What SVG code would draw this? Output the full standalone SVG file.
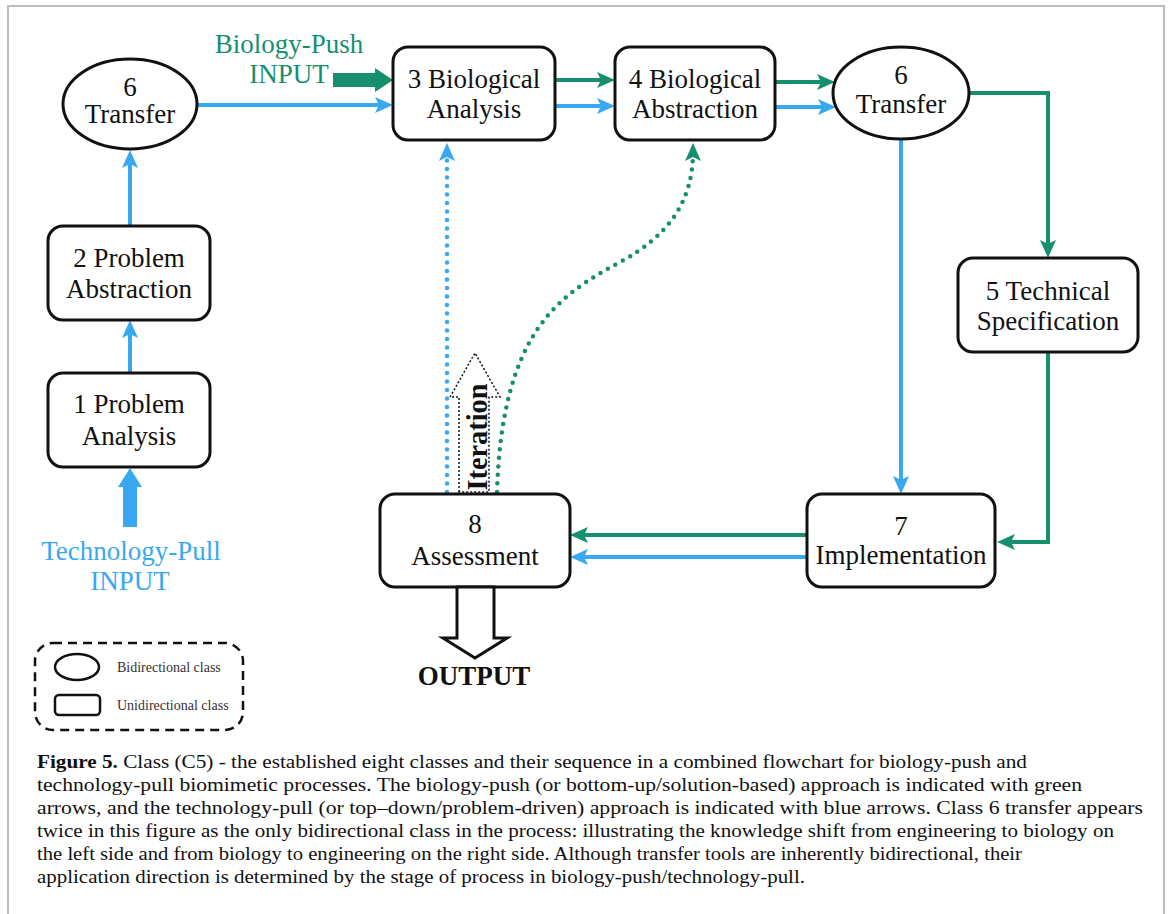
<svg xmlns="http://www.w3.org/2000/svg" width="1171" height="914" viewBox="0 0 1171 914">
<style>
.box{fill:#fff;stroke:#111;stroke-width:3}
.lbl{font-family:"Liberation Serif",serif;font-size:27px;fill:#111;text-anchor:middle}
.blue{stroke:#38a8f2;stroke-width:4;fill:none}
.green{stroke:#168f6f;stroke-width:4;fill:none}
.bdot{stroke:#38a8f2;stroke-width:4.5;fill:none;stroke-dasharray:0 8.5;stroke-linecap:round}
.gdot{stroke:#168f6f;stroke-width:4.5;fill:none;stroke-dasharray:0 8.5;stroke-linecap:round}
.cap{font-family:"Liberation Serif",serif;font-size:19.5px;fill:#111}
.leg{font-family:"Liberation Serif",serif;font-size:14px;fill:#333}
</style>
<defs>
<marker id="ab" viewBox="0 0 18 16" refX="12" refY="8" markerWidth="18" markerHeight="16" markerUnits="userSpaceOnUse" orient="auto"><path d="M0,0 L18,8 L0,16 L4,8 z" fill="#38a8f2"/></marker>
<marker id="ag" viewBox="0 0 18 16" refX="12" refY="8" markerWidth="18" markerHeight="16" markerUnits="userSpaceOnUse" orient="auto"><path d="M0,0 L18,8 L0,16 L4,8 z" fill="#168f6f"/></marker>
</defs>
<rect x="0" y="0" width="1171" height="914" fill="#fff"/>
<rect x="8" y="6" width="1156" height="930" fill="none" stroke="#bdbdbd" stroke-width="2"/>

<g id="connectors">
<line class="blue" x1="130" y1="373" x2="130" y2="326" marker-end="url(#ab)"/>
<line class="blue" x1="130" y1="226" x2="130" y2="156" marker-end="url(#ab)"/>
<line class="blue" x1="197" y1="105" x2="387" y2="105" marker-end="url(#ab)"/>
<line class="green" x1="555" y1="80" x2="609" y2="80" marker-end="url(#ag)"/>
<line class="blue" x1="555" y1="106" x2="609" y2="106" marker-end="url(#ab)"/>
<line class="green" x1="775" y1="82" x2="829" y2="82" marker-end="url(#ag)"/>
<line class="blue" x1="775" y1="107" x2="830" y2="107" marker-end="url(#ab)"/>
<polyline class="green" points="969,93 1048,93 1048,252" marker-end="url(#ag)"/>
<polyline class="green" points="1048,352 1048,542 1003,542" marker-end="url(#ag)"/>
<line class="blue" x1="901" y1="139" x2="901" y2="488" marker-end="url(#ab)"/>
<line class="green" x1="807" y1="535" x2="576" y2="535" marker-end="url(#ag)"/>
<line class="blue" x1="807" y1="557" x2="576" y2="557" marker-end="url(#ab)"/>
<line class="bdot" x1="447" y1="492" x2="447" y2="152"/>
<line class="blue" x1="447" y1="152" x2="447" y2="149" marker-end="url(#ab)" stroke-width="0.5"/>
<path class="gdot" d="M497,492 C502,330 560,295 620,262 C670,235 693,200 693,152"/>
<line class="green" x1="693" y1="152" x2="693" y2="149" marker-end="url(#ag)" stroke-width="0.5"/>
<polygon points="123,527 137,527 137,487 142,487 130,468 118,487 123,487" fill="#38a8f2"/>
<polygon points="333,73 375,73 375,68 393,80 375,92 375,87 333,87" fill="#168f6f"/>
</g>

<g id="n6a">
<ellipse cx="130" cy="104" rx="67" ry="45" class="box"/>
<text class="lbl" x="130" y="96">6</text>
<text class="lbl" x="130" y="123">Transfer</text>
</g>
<g id="n2">
<rect x="48" y="226" width="162" height="94" rx="15" class="box"/>
<text class="lbl" x="129" y="267">2 Problem</text>
<text class="lbl" x="129" y="298">Abstraction</text>
</g>
<g id="n1">
<rect x="48" y="373" width="162" height="94" rx="15" class="box"/>
<text class="lbl" x="129" y="413">1 Problem</text>
<text class="lbl" x="129" y="445">Analysis</text>
</g>
<g id="tpull">
<text class="lbl" x="131" y="560" style="fill:#38a8f2">Technology-Pull</text>
<text class="lbl" x="130" y="590" style="fill:#38a8f2">INPUT</text>
</g>
<g id="bpush">
<text class="lbl" x="289" y="53" style="fill:#168f6f">Biology-Push</text>
<text class="lbl" x="289" y="83" style="fill:#168f6f">INPUT</text>
</g>
<g id="n3">
<rect x="393" y="47" width="162" height="93" rx="15" class="box"/>
<text class="lbl" x="474" y="88">3 Biological</text>
<text class="lbl" x="474" y="118">Analysis</text>
</g>
<g id="n4">
<rect x="615" y="47" width="160" height="93" rx="15" class="box"/>
<text class="lbl" x="695" y="88">4 Biological</text>
<text class="lbl" x="695" y="118">Abstraction</text>
</g>
<g id="n6b">
<ellipse cx="901" cy="93" rx="68" ry="46" class="box"/>
<text class="lbl" x="901" y="84">6</text>
<text class="lbl" x="901" y="113">Transfer</text>
</g>
<g id="n5">
<rect x="958" y="258" width="180" height="94" rx="15" class="box"/>
<text class="lbl" x="1048" y="300">5 Technical</text>
<text class="lbl" x="1048" y="330">Specification</text>
</g>
<g id="n7">
<rect x="807" y="494" width="188" height="93" rx="15" class="box"/>
<text class="lbl" x="901" y="535">7</text>
<text class="lbl" x="901" y="564">Implementation</text>
</g>
<g id="n8">
<rect x="380" y="494" width="190" height="93" rx="15" class="box"/>
<text class="lbl" x="475" y="533">8</text>
<text class="lbl" x="475" y="565">Assessment</text>
</g>
<g id="iteration">
<polygon points="459,492 459,397 450,397 475,353 500,397 489,397 489,492" fill="none" stroke="#111" stroke-width="1.5" stroke-dasharray="2 2"/>
<text class="lbl" transform="translate(487,437) rotate(-90)" style="font-weight:bold;font-size:29px" textLength="107" lengthAdjust="spacingAndGlyphs">Iteration</text>
</g>
<g id="output">
<polygon points="457,587 494,587 494,638 507,638 475,658 443,638 457,638" fill="#fff" stroke="#111" stroke-width="3" stroke-linejoin="miter"/>
<text class="lbl" x="474" y="685" style="font-weight:bold">OUTPUT</text>
</g>
<g id="legend">
<rect x="35" y="643" width="208" height="87" rx="18" fill="none" stroke="#111" stroke-width="2.5" stroke-dasharray="9 6"/>
<ellipse cx="77" cy="667" rx="22" ry="13" fill="none" stroke="#111" stroke-width="2.5"/>
<rect x="55" y="695" width="45" height="20" rx="4" fill="none" stroke="#111" stroke-width="2.5"/>
<text class="leg" x="117" y="672">Bidirectional class</text>
<text class="leg" x="117" y="710">Unidirectional class</text>
</g>
<g id="caption">
<text class="cap" x="37" y="768" textLength="990" lengthAdjust="spacingAndGlyphs"><tspan font-weight="bold">Figure 5.</tspan> Class (C5) - the established eight classes and their sequence in a combined flowchart for biology-push and</text>
<text class="cap" x="37" y="791" textLength="1045" lengthAdjust="spacingAndGlyphs">technology-pull biomimetic processes. The biology-push (or bottom-up/solution-based) approach is indicated with green</text>
<text class="cap" x="37" y="814" textLength="1106" lengthAdjust="spacingAndGlyphs">arrows, and the technology-pull (or top–down/problem-driven) approach is indicated with blue arrows. Class 6 transfer appears</text>
<text class="cap" x="37" y="837" textLength="1077" lengthAdjust="spacingAndGlyphs">twice in this figure as the only bidirectional class in the process: illustrating the knowledge shift from engineering to biology on</text>
<text class="cap" x="37" y="860" textLength="985" lengthAdjust="spacingAndGlyphs">the left side and from biology to engineering on the right side. Although transfer tools are inherently bidirectional, their</text>
<text class="cap" x="37" y="883" textLength="768" lengthAdjust="spacingAndGlyphs">application direction is determined by the stage of process in biology-push/technology-pull.</text>
</g>
</svg>
